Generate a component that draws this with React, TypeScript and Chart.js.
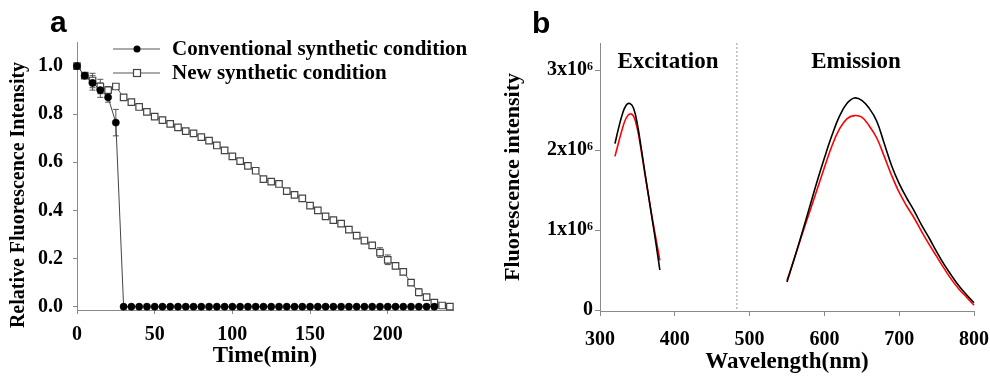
import React, { useEffect, useRef } from "react";
import { Chart, registerables } from "chart.js";
Chart.register(...registerables);

const SERIF = "'Liberation Serif', 'Times New Roman', serif";
const SANS = "'Liberation Sans', Arial, sans-serif";

// ---------- Panel a data ----------
const TIME_CONVENTIONAL = [0, 5, 10, 15, 20, 25, 30, 35, 40, 45, 50, 55, 60, 65, 70, 75, 80, 85, 90, 95, 100, 105, 110, 115, 120, 125, 130, 135, 140, 145, 150, 155, 160, 165, 170, 175, 180, 185, 190, 195, 200, 205, 210, 215, 220, 225, 230];
const CONVENTIONAL = [1.0, 0.96, 0.93, 0.9, 0.87, 0.765, 0, 0, 0, 0, 0, 0, 0, 0, 0, 0, 0, 0, 0, 0, 0, 0, 0, 0, 0, 0, 0, 0, 0, 0, 0, 0, 0, 0, 0, 0, 0, 0, 0, 0, 0, 0, 0, 0, 0, 0, 0];
const CONVENTIONAL_ERR = [0, 0.01, 0.03, 0.03, 0.02, 0.055, 0, 0, 0, 0, 0, 0, 0, 0, 0, 0, 0, 0, 0, 0, 0, 0, 0, 0, 0, 0, 0, 0, 0, 0, 0, 0, 0, 0, 0, 0, 0, 0, 0, 0, 0, 0, 0, 0, 0, 0, 0];

const TIME_NEW = [0, 5, 10, 15, 20, 25, 30, 35, 40, 45, 50, 55, 60, 65, 70, 75, 80, 85, 90, 95, 100, 105, 110, 115, 120, 125, 130, 135, 140, 145, 150, 155, 160, 165, 170, 175, 180, 185, 190, 195, 200, 205, 210, 215, 220, 225, 230, 235, 240];
const NEW_CONDITION = [1.0, 0.96, 0.94, 0.915, 0.9, 0.915, 0.87, 0.85, 0.83, 0.81, 0.79, 0.775, 0.76, 0.745, 0.73, 0.72, 0.705, 0.69, 0.67, 0.65, 0.625, 0.605, 0.585, 0.565, 0.53, 0.52, 0.51, 0.48, 0.465, 0.45, 0.42, 0.4, 0.375, 0.36, 0.345, 0.32, 0.295, 0.275, 0.255, 0.225, 0.195, 0.17, 0.145, 0.1, 0.06, 0.04, 0.017, 0.005, 0.0];
const NEW_ERR = [0, 0, 0.03, 0.03, 0.015, 0, 0, 0, 0, 0, 0, 0.012, 0, 0, 0, 0, 0, 0.012, 0, 0, 0, 0, 0, 0, 0, 0, 0, 0, 0, 0, 0, 0, 0, 0, 0, 0, 0, 0, 0.012, 0.02, 0.02, 0.012, 0, 0.012, 0.015, 0.01, 0, 0, 0];

const A_X_TICKS = [0, 50, 100, 150, 200];
const A_Y_TICKS = [0, 0.2, 0.4, 0.6, 0.8, 1.0];
const A_Y_TICK_LABELS = ["0.0", "0.2", "0.4", "0.6", "0.8", "1.0"];
const LEGEND_LABELS = ["Conventional synthetic condition", "New synthetic condition"];

// ---------- Panel b data (intensity in units of 10^6) ----------
const EX_WL = [320, 325, 330, 335, 340, 345, 350, 355, 360, 365, 370, 375, 380];
const EX_BLACK = [2.08, 2.28, 2.45, 2.56, 2.58, 2.52, 2.32, 2.03, 1.72, 1.42, 1.12, 0.82, 0.5];
const EX_RED = [1.92, 2.1, 2.27, 2.4, 2.45, 2.42, 2.26, 2.0, 1.7, 1.42, 1.14, 0.88, 0.62];
const EM_WL = [550, 560, 570, 580, 590, 600, 610, 620, 630, 640, 650, 660, 670, 680, 690, 700, 710, 720, 730, 740, 750, 760, 770, 780, 790, 800];
const EM_BLACK = [0.35, 0.65, 0.96, 1.28, 1.6, 1.9, 2.18, 2.42, 2.58, 2.65, 2.62, 2.52, 2.36, 2.08, 1.8, 1.58, 1.4, 1.24, 1.06, 0.9, 0.73, 0.57, 0.43, 0.3, 0.19, 0.09];
const EM_RED = [0.37, 0.65, 0.94, 1.22, 1.5, 1.78, 2.05, 2.26, 2.39, 2.43, 2.41, 2.3, 2.15, 1.92, 1.68, 1.47, 1.3, 1.15, 0.98, 0.82, 0.67, 0.52, 0.38, 0.26, 0.16, 0.06];
const B_X_TICKS = [300, 400, 500, 600, 700, 800];
const B_Y_TICKS = [0, 1, 2, 3];
const B_Y_TICK_LABELS = ["0", "1x10⁶", "2x10⁶", "3x10⁶"];
const DIVIDER_WL = 483;

const toXY = (xs: number[], ys: number[]) => xs.map((x, i) => ({ x, y: ys[i] }));

const AXIS_COLOR = "#8a8a8a";

const noScalePadding = (s: any) => {
  s.paddingLeft = 0;
  s.paddingRight = 0;
  s.paddingTop = 0;
  s.paddingBottom = 0;
};

const errorBarPlugin = {
  id: "errorBars",
  beforeDatasetsDraw(chart: any) {
    const { ctx } = chart;
    const xs = chart.scales.x;
    const ys = chart.scales.y;
    const sets = [
      { t: TIME_CONVENTIONAL, v: CONVENTIONAL, e: CONVENTIONAL_ERR },
      { t: TIME_NEW, v: NEW_CONDITION, e: NEW_ERR },
    ];
    ctx.save();
    ctx.strokeStyle = "#555";
    ctx.lineWidth = 1;
    sets.forEach((s) => {
      s.t.forEach((t, i) => {
        const e = s.e[i];
        if (!e) return;
        const px = xs.getPixelForValue(t);
        const y1 = ys.getPixelForValue(s.v[i] + e);
        const y2 = ys.getPixelForValue(s.v[i] - e);
        ctx.beginPath();
        ctx.moveTo(px, y1);
        ctx.lineTo(px, y2);
        ctx.moveTo(px - 3, y1);
        ctx.lineTo(px + 3, y1);
        ctx.moveTo(px - 3, y2);
        ctx.lineTo(px + 3, y2);
        ctx.stroke();
      });
    });
    ctx.restore();
  },
};

const panelAText = {
  id: "panelAText",
  afterDraw(chart: any) {
    const { ctx } = chart;
    ctx.save();
    ctx.fillStyle = "#000";
    ctx.font = `bold 30px ${SANS}`;
    ctx.textAlign = "left";
    ctx.textBaseline = "alphabetic";
    ctx.fillText("a", 50, 32);
    ctx.save();
    ctx.translate(19, 195);
    ctx.rotate(-Math.PI / 2);
    ctx.font = `bold 20px ${SERIF}`;
    ctx.textAlign = "center";
    ctx.textBaseline = "middle";
    ctx.fillText("Relative Fluorescence Intensity", 0, 0);
    ctx.restore();
    const rows = [49, 73];
    rows.forEach((ry, i) => {
      ctx.strokeStyle = "#555";
      ctx.lineWidth = 1;
      ctx.beginPath();
      ctx.moveTo(113, ry);
      ctx.lineTo(160, ry);
      ctx.stroke();
      if (i === 0) {
        ctx.fillStyle = "#000";
        ctx.beginPath();
        ctx.arc(137, ry, 3.5, 0, Math.PI * 2);
        ctx.fill();
      } else {
        ctx.fillStyle = "#fff";
        ctx.strokeStyle = "#444";
        ctx.lineWidth = 1.2;
        ctx.fillRect(133.5, ry - 3.5, 7, 7);
        ctx.strokeRect(133.5, ry - 3.5, 7, 7);
      }
      ctx.fillStyle = "#000";
      ctx.font = `bold 21px ${SERIF}`;
      ctx.textAlign = "left";
      ctx.textBaseline = "middle";
      ctx.fillText(LEGEND_LABELS[i], 172, ry + 1);
    });
    ctx.restore();
  },
};

const panelBText = {
  id: "panelBText",
  beforeDatasetsDraw(chart: any) {
    const { ctx, chartArea } = chart;
    const px = chart.scales.x.getPixelForValue(DIVIDER_WL);
    ctx.save();
    ctx.strokeStyle = "#999";
    ctx.lineWidth = 1;
    ctx.setLineDash([2, 2]);
    ctx.beginPath();
    ctx.moveTo(px, chartArea.top);
    ctx.lineTo(px, chartArea.bottom);
    ctx.stroke();
    ctx.restore();
  },
  afterDraw(chart: any) {
    const { ctx } = chart;
    ctx.save();
    ctx.fillStyle = "#000";
    ctx.font = `bold 30px ${SANS}`;
    ctx.textAlign = "left";
    ctx.textBaseline = "alphabetic";
    ctx.fillText("b", 52, 33);
    ctx.font = `bold 23px ${SERIF}`;
    ctx.textAlign = "center";
    ctx.textBaseline = "middle";
    ctx.fillText("Excitation", 188, 62);
    ctx.fillText("Emission", 376, 62);
    ctx.restore();
  },
};

function PanelA() {
  const ref = useRef<HTMLCanvasElement>(null);
  useEffect(() => {
    const chart = new Chart(ref.current!, {
      type: "line",
      data: {
        datasets: [
          {
            label: LEGEND_LABELS[0],
            data: toXY(TIME_CONVENTIONAL, CONVENTIONAL),
            borderColor: "#444",
            borderWidth: 1,
            pointRadius: 3.6,
            pointStyle: "circle",
            pointBackgroundColor: "#000",
            pointBorderColor: "#000",
            pointBorderWidth: 0.5,
            tension: 0,
            clip: false,
          } as any,
          {
            label: LEGEND_LABELS[1],
            data: toXY(TIME_NEW, NEW_CONDITION),
            borderColor: "#555",
            borderWidth: 1,
            pointRadius: 4.6,
            pointStyle: "rect",
            pointBackgroundColor: "#fff",
            pointBorderColor: "#444",
            pointBorderWidth: 1.2,
            tension: 0,
            clip: false,
          } as any,
        ],
      },
      options: {
        responsive: false,
        animation: false,
        devicePixelRatio: 1,
        layout: { padding: { left: 0, top: 42, right: 27, bottom: 0 } },
        plugins: { legend: { display: false }, tooltip: { enabled: false } },
        scales: {
          x: {
            type: "linear",
            min: 0,
            max: 242,
            afterFit: (s: any) => {
              s.height = 67;
              noScalePadding(s);
            },
            afterBuildTicks: (s: any) => {
              s.ticks = A_X_TICKS.map((v) => ({ value: v }));
            },
            ticks: {
              font: { family: SERIF, size: 20, weight: "bold" },
              color: "#000",
              padding: 9,
              maxRotation: 0,
              autoSkip: false,
            },
            grid: { drawOnChartArea: false, tickLength: 4, color: AXIS_COLOR },
            border: { color: AXIS_COLOR, width: 1 },
            title: {
              display: true,
              text: "Time(min)",
              font: { family: SERIF, size: 23, weight: "bold" },
              color: "#000",
              padding: { top: 0, bottom: 7 },
            },
          },
          y: {
            type: "linear",
            min: -0.0137,
            max: 1.1,
            afterFit: (s: any) => {
              s.width = 77;
              noScalePadding(s);
            },
            afterBuildTicks: (s: any) => {
              s.ticks = A_Y_TICKS.map((v) => ({ value: v }));
            },
            ticks: {
              font: { family: SERIF, size: 20, weight: "bold" },
              color: "#000",
              padding: 10,
              autoSkip: false,
              callback: (_v: any, i: number) => A_Y_TICK_LABELS[i],
            },
            grid: { drawOnChartArea: false, tickLength: 4, color: AXIS_COLOR },
            border: { color: AXIS_COLOR, width: 1 },
          },
        },
      } as any,
      plugins: [errorBarPlugin, panelAText],
    });
    return () => chart.destroy();
  }, []);
  return (
    <canvas
      ref={ref}
      width={480}
      height={377}
      style={{ position: "absolute", left: 0, top: 0, width: 480, height: 377 }}
    />
  );
}

function PanelB() {
  const ref = useRef<HTMLCanvasElement>(null);
  useEffect(() => {
    const common = {
      borderWidth: 1.6,
      pointRadius: 0,
      tension: 0.4,
      clip: false,
    };
    const chart = new Chart(ref.current!, {
      type: "line",
      data: {
        datasets: [
          { label: "ex-black", data: toXY(EX_WL, EX_BLACK), borderColor: "#000", ...common } as any,
          { label: "ex-red", data: toXY(EX_WL, EX_RED), borderColor: "#ff0000", ...common } as any,
          { label: "em-black", data: toXY(EM_WL, EM_BLACK), borderColor: "#000", ...common } as any,
          { label: "em-red", data: toXY(EM_WL, EM_RED), borderColor: "#ff0000", ...common } as any,
        ],
      },
      options: {
        responsive: false,
        animation: false,
        devicePixelRatio: 1,
        layout: { padding: { left: 0, top: 43, right: 16, bottom: 0 } },
        plugins: { legend: { display: false }, tooltip: { enabled: false } },
        scales: {
          x: {
            type: "linear",
            min: 300,
            max: 800,
            afterFit: (s: any) => {
              s.height = 66;
              noScalePadding(s);
            },
            afterBuildTicks: (s: any) => {
              s.ticks = B_X_TICKS.map((v) => ({ value: v }));
            },
            ticks: {
              font: { family: SERIF, size: 20, weight: "bold" },
              color: "#000",
              padding: 12,
              maxRotation: 0,
              autoSkip: false,
            },
            grid: { drawOnChartArea: false, tickLength: 5, color: AXIS_COLOR },
            border: { color: AXIS_COLOR, width: 1 },
            title: {
              display: true,
              text: "Wavelength(nm)",
              font: { family: SERIF, size: 23, weight: "bold" },
              color: "#000",
              padding: { top: 0, bottom: 1 },
            },
          },
          y: {
            type: "linear",
            min: -0.0125,
            max: 3.3375,
            afterFit: (s: any) => {
              s.width = 120;
              noScalePadding(s);
            },
            afterBuildTicks: (s: any) => {
              s.ticks = B_Y_TICKS.map((v) => ({ value: v }));
            },
            ticks: {
              font: { family: SERIF, size: 20, weight: "bold" },
              color: "#000",
              padding: 2,
              autoSkip: false,
              callback: (_v: any, i: number) => B_Y_TICK_LABELS[i],
            },
            grid: { drawOnChartArea: false, tickLength: 5, color: AXIS_COLOR },
            border: { color: AXIS_COLOR, width: 1 },
            title: {
              display: true,
              text: "Fluorescence intensity",
              font: { family: SERIF, size: 22, weight: "bold" },
              color: "#000",
              padding: { top: 20, bottom: 0 },
            },
          },
        },
      } as any,
      plugins: [panelBText],
    });
    return () => chart.destroy();
  }, []);
  return (
    <canvas
      ref={ref}
      width={510}
      height={377}
      style={{ position: "absolute", left: 480, top: 0, width: 510, height: 377 }}
    />
  );
}

export default function App() {
  return (
    <div
      style={{
        position: "absolute",
        left: 0,
        top: 0,
        width: 990,
        height: 377,
        background: "#fff",
        overflow: "hidden",
      }}
    >
      <PanelA />
      <PanelB />
    </div>
  );
}
